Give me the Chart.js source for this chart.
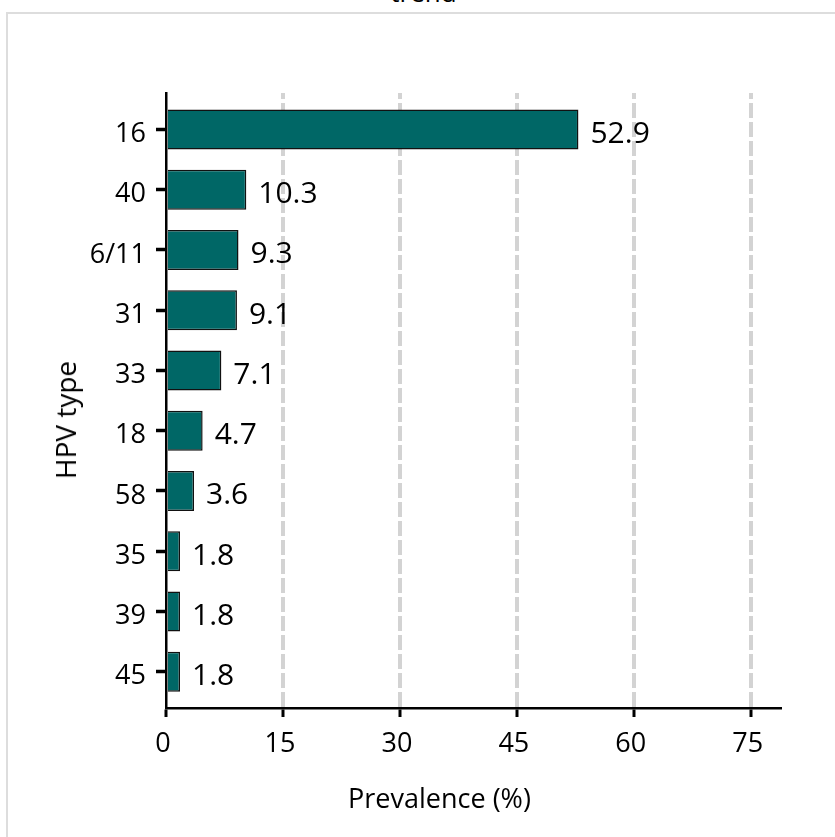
<!DOCTYPE html>
<html>
<head>
<meta charset="utf-8">
<title>HPV type prevalence</title>
<script src="https://cdn.jsdelivr.net/npm/chart.js@4.4.0/dist/chart.umd.min.js"></script>
<style>
  html, body { margin: 0; padding: 0; background: #fff; overflow: hidden; }
  body { width: 835px; height: 837px; position: relative; font-family: "Open Sans", sans-serif; color: #000; }
  .frame { position: absolute; left: 6px; top: 12px; width: 900px; height: 900px; border: 2px solid #dddddd; }
  #chart { position: absolute; left: 0; top: 0; }
  .caption { position: absolute; line-height: 1; white-space: nowrap; text-align: center; }
  #top-title { left: 0; width: 847px; top: -21px; font-size: 26px; }
  #x-title { left: 0; width: 879px; top: 784px; font-size: 27px; }
  #y-title { left: 65px; top: 420px; font-size: 28px; transform: translate(-50%, -50%) rotate(-90deg); }
</style>
</head>
<body>
<div class="caption" id="top-title">trend</div>
<div class="frame"></div>
<canvas id="chart" width="835" height="837"></canvas>
<div class="caption" id="x-title">Prevalence (%)</div>
<div class="caption" id="y-title">HPV type</div>
<script>
const hpvTypes = ["16", "40", "6/11", "31", "33", "18", "58", "35", "39", "45"];
const prevalence = [52.9, 10.3, 9.3, 9.1, 7.1, 4.7, 3.6, 1.8, 1.8, 1.8];
const xTicks = [0, 15, 30, 45, 60, 75];
const xMax = 78.75;

// writes the value to the right of each bar
const barValueLabels = {
  id: "barValueLabels",
  afterDatasetsDraw(chart) {
    const ctx = chart.ctx;
    const meta = chart.getDatasetMeta(0);
    ctx.save();
    ctx.font = '30px "Open Sans"';
    ctx.fillStyle = "#000";
    ctx.textAlign = "left";
    ctx.textBaseline = "middle";
    meta.data.forEach((bar, i) => {
      ctx.fillText(prevalence[i].toFixed(1), bar.x + 12, bar.y + 5);
    });
    ctx.restore();
  },
};

renderPrevalenceChart();

function renderPrevalenceChart() {
  let canvas = document.querySelector("#chart");
  let tickFont = { family: "Open Sans", size: 27 };

  new Chart(canvas, {
    type: "bar",
    data: {
      datasets: [
        {
          data: prevalence.map((v, i) => ({ x: v, y: i })),
          backgroundColor: "#006766",
          borderColor: "#111",
          borderWidth: 1.5,
          categoryPercentage: 1,
          barPercentage: 0.664,
        },
      ],
    },
    options: {
      indexAxis: "y",
      responsive: false,
      animation: false,
      events: [],
      layout: { padding: { top: 93, right: 55, bottom: 0, left: 0 } },
      plugins: {
        legend: { display: false },
        tooltip: { enabled: false },
      },
      scales: {
        x: {
          type: "linear",
          min: 0,
          max: xMax,
          afterFit: (s) => { s.height = 129; },
          afterBuildTicks: (s) => { s.ticks = xTicks.map((v) => ({ value: v })); },
          grid: {
            color: (c) => (c.tick && c.tick.value === 0 ? "rgba(0,0,0,0)" : "#d3d3d3"),
            lineWidth: 4,
            tickColor: "#000",
            tickWidth: 3,
            tickLength: 9,
            tickBorderDash: [],
          },
          border: { display: true, color: "#000", width: 2.5, dash: [15, 4], dashOffset: 9 },
          ticks: { font: tickFont, color: "#000", padding: 11, labelOffset: -3, maxRotation: 0 },
        },
        y: {
          type: "linear",
          reverse: true,
          offset: false,
          min: -0.604,
          max: 9.602,
          afterFit: (s) => { s.width = 166; },
          afterBuildTicks: (s) => { s.ticks = hpvTypes.map((t, i) => ({ value: i })); },
          grid: { offset: false, drawOnChartArea: false, tickColor: "#000", tickWidth: 3.5, tickLength: 10 },
          border: { display: true, color: "#000", width: 2.5, z: 1 },
          ticks: {
            font: tickFont,
            color: "#000",
            padding: 10,
            labelOffset: 5,
            autoSkip: false,
            callback: (v) => hpvTypes[v],
          },
        },
      },
    },
    plugins: [barValueLabels],
  });
}
</script>
</body>
</html>
